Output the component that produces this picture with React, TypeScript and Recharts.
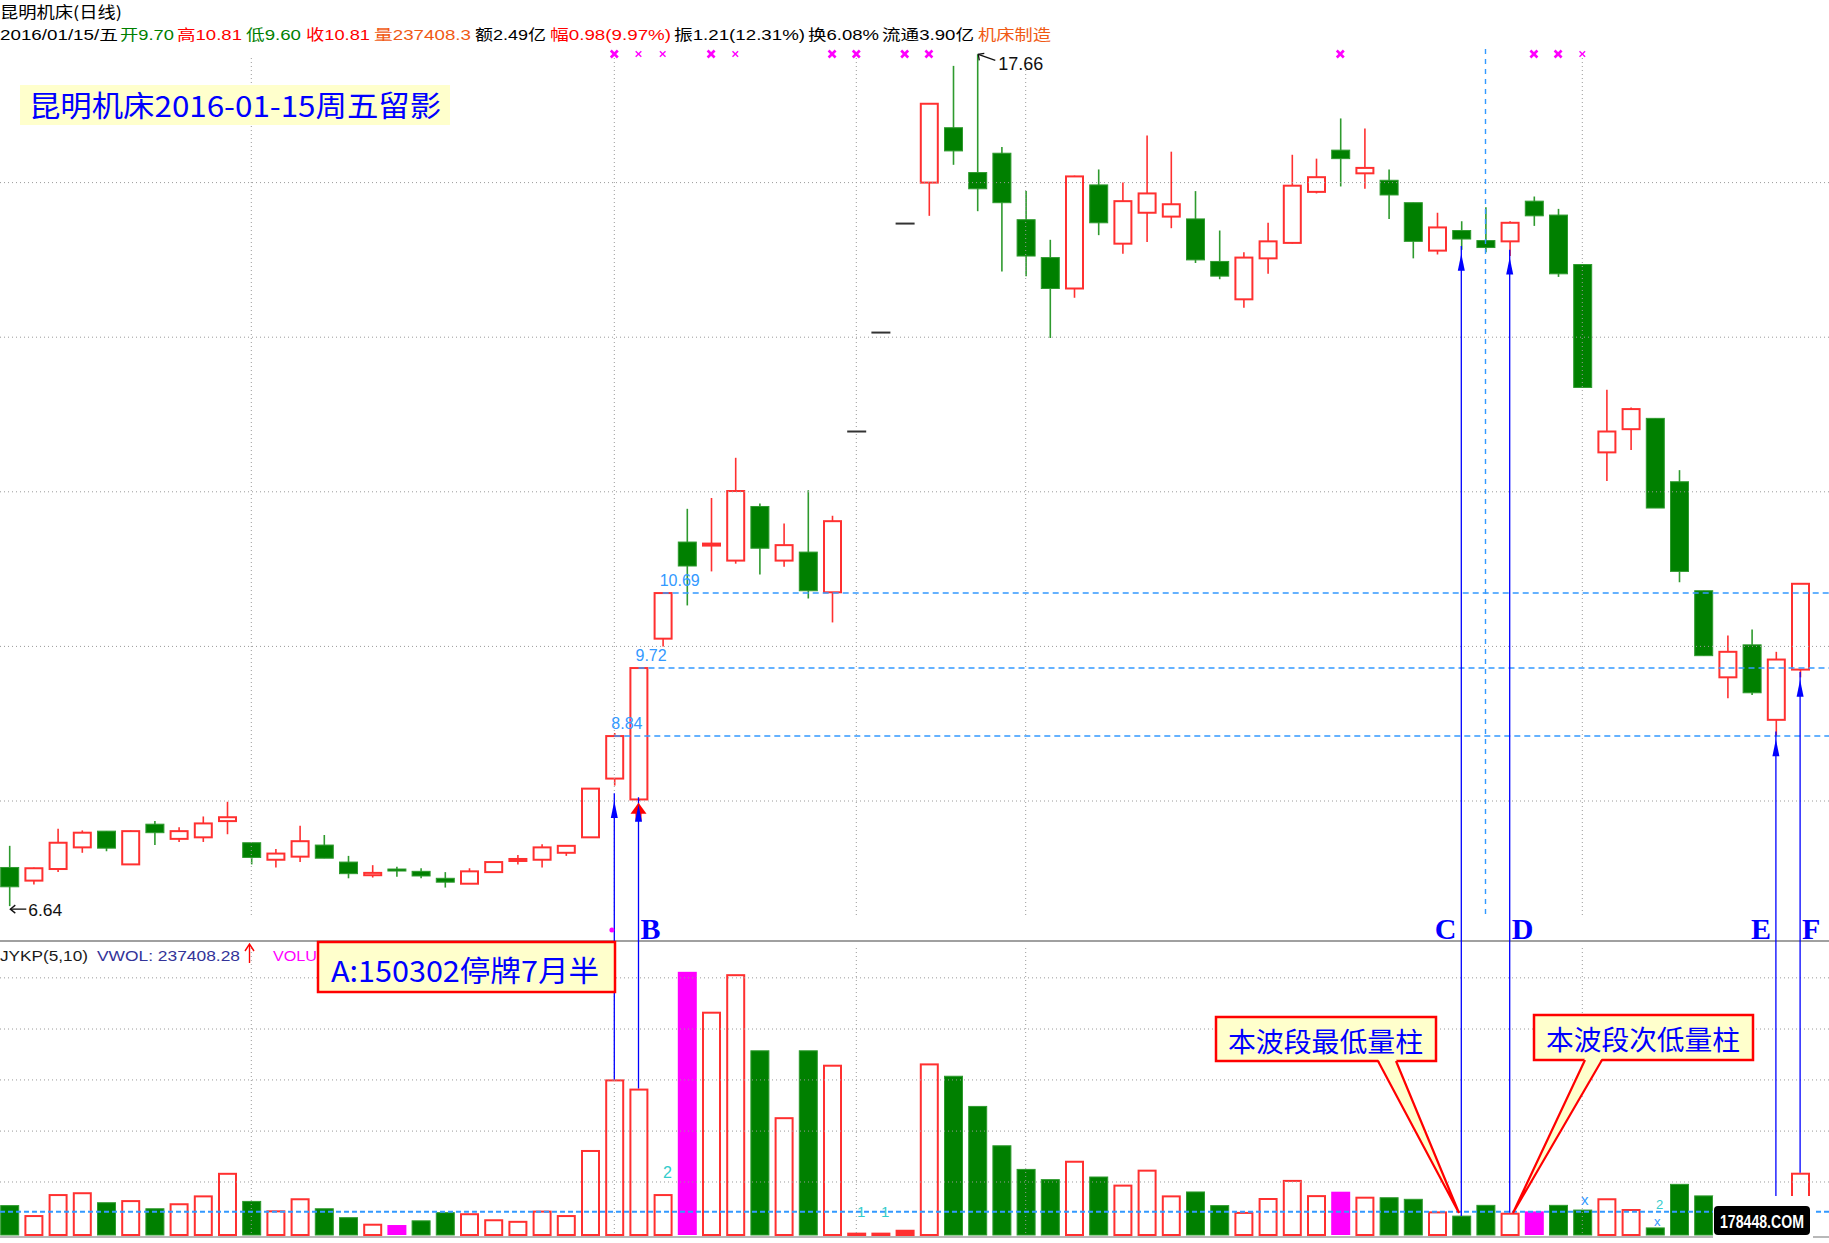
import React from "react";
import { ComposedChart, Bar, XAxis, YAxis, ReferenceLine, ReferenceDot } from "recharts";

// ---- values (75 daily candles, 2015 -> 2016/01/15) ----
const days = [
  1, 2, 3, 4, 5, 6, 7, 8, 9, 10, 11, 12, 13, 14, 15, 16, 17, 18, 19, 20, 21, 22, 23, 24, 25,
  26, 27, 28, 29, 30, 31, 32, 33, 34, 35, 36, 37, 38, 39, 40, 41, 42, 43, 44, 45, 46, 47, 48, 49, 50,
  51, 52, 53, 54, 55, 56, 57, 58, 59, 60, 61, 62, 63, 64, 65, 66, 67, 68, 69, 70, 71, 72, 73, 74, 75,
];
const opens = [
  7.14, 6.97, 7.12, 7.4, 7.61, 7.18, 7.7, 7.51, 7.53, 7.74, 7.46, 7.24, 7.28, 7.43, 7.21, 7.04, 7.12, 7.09, 7.0, 6.93,
  7.08, 7.23, 7.24, 7.33, 7.53, 8.29, 8.02, 10.1, 11.35, 11.31, 11.11, 11.81, 11.11, 11.22, 10.7, 12.78, 14.06, 15.47, 16.0, 16.71,
  16.13, 16.38, 15.52, 15.03, 14.63, 15.97, 15.21, 15.61, 15.56, 15.53, 14.98, 14.49, 15.02, 15.22, 15.88, 16.42, 16.12, 16.03, 15.74, 15.12,
  15.38, 15.25, 15.24, 15.76, 15.58, 14.94, 12.51, 12.81, 12.95, 12.13, 10.72, 9.6, 10.02, 9.05, 9.7,
];
const highs = [
  7.42, 7.14, 7.64, 7.62, 7.61, 7.62, 7.74, 7.66, 7.8, 7.99, 7.46, 7.38, 7.68, 7.56, 7.29, 7.17, 7.15, 7.13, 7.08, 7.13,
  7.21, 7.3, 7.44, 7.43, 8.16, 8.88, 9.72, 10.69, 11.78, 11.92, 12.44, 11.85, 11.59, 12.02, 11.69, 12.78, 14.06, 15.47, 17.02, 17.51,
  17.66, 16.46, 15.89, 15.26, 16.09, 16.17, 16.0, 16.61, 16.4, 15.89, 15.38, 15.1, 15.48, 16.36, 16.31, 16.83, 16.7, 16.17, 15.74, 15.61,
  15.5, 15.68, 15.5, 15.82, 15.66, 14.94, 13.32, 13.09, 12.95, 12.28, 10.72, 10.14, 10.22, 9.93, 10.81,
];
const lows = [
  6.64, 6.92, 7.08, 7.33, 7.35, 7.18, 7.43, 7.47, 7.47, 7.57, 7.18, 7.14, 7.21, 7.26, 7.0, 7.01, 7.02, 7.0, 6.88, 6.93,
  7.08, 7.18, 7.14, 7.29, 7.53, 8.2, 8.0, 10.0, 10.53, 10.97, 11.07, 10.93, 11.03, 10.62, 10.31, 12.78, 14.06, 15.47, 15.57, 16.23,
  15.63, 14.85, 14.79, 13.99, 14.51, 15.32, 15.08, 15.23, 15.41, 14.96, 14.75, 14.38, 14.82, 15.21, 15.86, 15.95, 15.92, 15.53, 15.02, 15.07,
  15.13, 15.1, 15.05, 15.44, 14.78, 13.35, 12.14, 12.54, 11.79, 10.83, 9.88, 9.33, 9.37, 8.84, 9.6,
];
const closes = [
  6.89, 7.13, 7.46, 7.59, 7.39, 7.61, 7.59, 7.61, 7.71, 7.79, 7.27, 7.32, 7.48, 7.26, 7.06, 7.07, 7.11, 7.03, 6.95, 7.09,
  7.21, 7.25, 7.4, 7.42, 8.16, 8.84, 9.72, 10.69, 11.04, 11.33, 12.01, 11.27, 11.31, 10.72, 11.62, 12.78, 14.06, 15.47, 17.02, 16.41,
  15.92, 15.74, 15.05, 14.63, 16.08, 15.48, 15.76, 15.86, 15.72, 15.0, 14.79, 15.03, 15.24, 15.96, 16.07, 16.31, 16.19, 15.84, 15.24, 15.42,
  15.27, 15.16, 15.48, 15.57, 14.82, 13.35, 12.78, 13.07, 11.79, 10.97, 9.88, 9.93, 9.4, 9.83, 10.81,
];
const volumes = [
  112000, 76000, 156000, 163000, 123000, 133000, 100000, 121000, 151000, 237000, 128000, 94000, 140000, 100000, 66000,
  43000, 38000, 54000, 85000, 83000, 60000, 54000, 93000, 76000, 324000, 593000, 558000, 156000, 1003000, 851000,
  994000, 702000, 449000, 702000, 649000, 9000, 9000, 20000, 654000, 605000, 490000, 340000, 250000, 211000, 283000,
  221000, 192000, 249000, 151000, 164000, 112000, 88000, 141000, 210000, 152000, 165000, 146000, 142000, 136000, 90000,
  72000, 113000, 85000, 90000, 113000, 95000, 140000, 99000, 27000, 193000, 149000, 120000, 110000, 130000, 237408,
];
const hotVolumeDays = [17, 29, 56, 64];
const boldMarkDays = [26, 30, 35, 36, 38, 39, 56, 64, 65];
const thinMarkDays = [27, 28, 31, 66];
const priceGrid = [8, 10, 12, 14, 16];
const volumeGrid = [202000, 396000, 591000, 785000, 980000];
const volumeFloor = 88800;
const monthDays = [11, 26, 36, 43, 66];
const limitDays = [26, 27, 28];
const limitPrices = [8.84, 9.72, 10.69];
const arrowDays = [26, 27, 61, 63, 74, 75];
const arrowTips = [8.0, 7.95, 15.08, 15.03, 8.8, 9.57];
const arrowLetters = ["", "B", "C", "D", "E", "F"];
const letterSide = [0, 1, -1, 1, -1, 1];
const lowestDay = 1;
const highestDay = 41;
const cursorDay = 62;

// ---- layout ----
const W = 1829;
const H = 1243;
const STEP = 24.2;
const FIRST = 9.3;
const X0 = 1 - FIRST / STEP;
const X1 = X0 + W / STEP;
const PX_PER_YUAN = 77.3;
const P_HI = 8 + 801 / PX_PER_YUAN;
const P_LO = P_HI - H / PX_PER_YUAN;
const VOL_PER_PX = 3811;
const VOL_BASE_Y = 1235;
const V_HI = VOL_BASE_Y * VOL_PER_PX;
const V_LO = V_HI - H * VOL_PER_PX;
const priceAtY = (y: number) => P_HI - y / PX_PER_YUAN;
const volAtY = (y: number) => (VOL_BASE_Y - y) * VOL_PER_PX;
const volToPrice = (v: number) => P_HI - ((V_HI - v) / (V_HI - V_LO)) * (P_HI - P_LO);

const RED = "#FF3030";
const GREEN = "#008000";
const GREEN_EDGE = "#2E9A2E";
const MAGENTA = "#FF00FF";
const DASH_BLUE = "#3399FF";
const ARROW_BLUE = "#0000FF";
const GRID = "#9A9A9A";
const SANS = "'Liberation Sans', Arial, 'Noto Sans CJK SC', sans-serif";
const CJK = "'Noto Sans CJK SC', sans-serif";
const SERIF = "'Liberation Serif', 'Times New Roman', serif";

function Candle(props: any) {
  const { x, y, width, height, payload } = props;
  if (x == null || payload == null) return null;
  const { open, close, high, low } = payload;
  const mid = x + width / 2;
  if (high === low) {
    return <line x1={x} x2={x + width} y1={y} y2={y} stroke="#333" strokeWidth={2} />;
  }
  const k = height / (high - low);
  const yo = y + (high - open) * k;
  const yc = y + (high - close) * k;
  const up = close >= open;
  const top = Math.min(yo, yc);
  const bh = Math.max(Math.abs(yo - yc), 2);
  return (
    <g>
      <line x1={mid} x2={mid} y1={y} y2={y + height} stroke={up ? RED : GREEN_EDGE} strokeWidth={1.6} />
      {up ? (
        <rect x={x + 1} y={top} width={width - 2} height={bh} fill="#fff" stroke={RED} strokeWidth={2} />
      ) : (
        <rect x={x + 0.5} y={top} width={width - 1} height={bh} fill={GREEN} stroke={GREEN_EDGE} strokeWidth={1} />
      )}
    </g>
  );
}

function VolBar(props: any) {
  const { x, y, width, height, payload } = props;
  if (x == null || payload == null) return null;
  if (payload.hot) return <rect x={x} y={y} width={width} height={height} fill={MAGENTA} />;
  if (payload.close >= payload.open) {
    return (
      <rect x={x + 1} y={y + 1} width={width - 2} height={Math.max(height - 1, 1)}
        fill={height < 6 ? RED : "#fff"} stroke={RED} strokeWidth={2} />
    );
  }
  return <rect x={x + 0.5} y={y} width={width - 1} height={height} fill={GREEN} stroke={GREEN_EDGE} strokeWidth={1} />;
}

const markShape = (bold: boolean) => (p: any) => {
  const s = bold ? 3.5 : 2.8;
  return (
    <g stroke={MAGENTA} strokeWidth={bold ? 2.6 : 1.4}>
      <line x1={p.cx - s} y1={p.cy - s} x2={p.cx + s} y2={p.cy + s} />
      <line x1={p.cx - s} y1={p.cy + s} x2={p.cx + s} y2={p.cy - s} />
    </g>
  );
};

const arrowHead = (red: boolean) => (p: any) => (
  <g>
    {red && (
      <g fill="#FF0000">
        <polygon points={`${p.cx},${p.cy - 2} ${p.cx - 8},${p.cy + 9} ${p.cx + 8},${p.cy + 9}`} />
        <rect x={p.cx - 3} y={p.cy + 8} width={6} height={8} />
      </g>
    )}
    <polygon points={`${p.cx},${p.cy} ${p.cx - 3.5},${p.cy + 17} ${p.cx + 3.5},${p.cy + 17}`} fill={ARROW_BLUE} />
  </g>
);

const letterShape = (letter: string, side: number) => (p: any) => (
  <text x={side > 0 ? p.cx + 2 : p.cx - 5} y={p.cy} textAnchor={side > 0 ? "start" : "end"}
    fontFamily={SERIF} fontWeight="bold" fontSize={30} fill={ARROW_BLUE}>
    {letter}
  </text>
);

const limitLabel = (txt: string) => (p: any) => (
  <text x={p.cx - 3} y={p.cy - 7} fontFamily={SANS} fontSize={16} fill={DASH_BLUE}>{txt}</text>
);

const lowLabel = (p: any) => (
  <g>
    <line x1={p.cx + 1} y1={p.cy + 3} x2={p.cx + 17} y2={p.cy + 3} stroke="#111" strokeWidth={1.3} />
    <polyline points={`${p.cx + 6},${p.cy - 1} ${p.cx + 1},${p.cy + 3} ${p.cx + 6},${p.cy + 7}`} fill="none" stroke="#111" strokeWidth={1.3} />
    <text x={p.cx + 19} y={p.cy + 10} fontFamily={SANS} fontSize={16} fill="#111" textLength={34} lengthAdjust="spacingAndGlyphs">6.64</text>
  </g>
);

const highLabel = (p: any) => (
  <g>
    <line x1={p.cx + 1} y1={p.cy} x2={p.cx + 18} y2={p.cy + 6} stroke="#111" strokeWidth={1.3} />
    <polyline points={`${p.cx + 2},${p.cy + 6} ${p.cx + 1},${p.cy} ${p.cx + 7},${p.cy - 1}`} fill="none" stroke="#111" strokeWidth={1.3} />
    <text x={p.cx + 21} y={p.cy + 16} fontFamily={SANS} fontSize={18} fill="#111" textLength={45} lengthAdjust="spacingAndGlyphs">17.66</text>
  </g>
);

const headSegs: [string, number, number, string][] = [
  ["2016/01/15/五", 0, 118, "#000"],
  ["开9.70", 120, 54, "#008000"],
  ["高10.81", 177, 65, "#FF0000"],
  ["低9.60", 246, 55, "#008000"],
  ["收10.81", 306, 64, "#FF0000"],
  ["量237408.3", 374, 97, "#F05A14"],
  ["额2.49亿", 475, 71, "#000"],
  ["幅0.98(9.97%)", 550, 121, "#FF0000"],
  ["振1.21(12.31%)", 674, 131, "#000"],
  ["换6.08%", 808, 71, "#000"],
  ["流通3.90亿", 882, 92, "#000"],
  ["机床制造", 978, 73, "#F05A14"],
];

function Callout(props: { x: number; y: number; w: number; h: number; text: string; tw: number; base: number[]; tip: number[] }) {
  const { x, y, w, h, text, tw, base, tip } = props;
  const by = y + h;
  return (
    <g>
      <rect x={x} y={y} width={w} height={h} fill="#FFFFCC" stroke="#FF0000" strokeWidth={2.5} />
      <polygon points={`${base[0]},${by - 2} ${tip[0]},${tip[1]} ${base[1]},${by - 2}`} fill="#FFFFCC" />
      <polyline points={`${base[0]},${by} ${tip[0]},${tip[1]} ${base[1]},${by}`} fill="none" stroke="#FF0000" strokeWidth={2.2} />
      <text x={x + 12} y={y + 35} fontFamily={CJK} fontSize={27} fill={ARROW_BLUE} textLength={tw} lengthAdjust="spacingAndGlyphs">{text}</text>
    </g>
  );
}

function Overlay() {
  return (
    <svg width={W} height={H} style={{ position: "absolute", left: 0, top: 0, pointerEvents: "none" }}>
      <text x={0} y={18} fontFamily={CJK} fontSize={16} fill="#000" textLength={122} lengthAdjust="spacingAndGlyphs">昆明机床(日线)</text>
      {headSegs.map(([t, x, w, c]) => (
        <text key={t} x={x} y={40} fontFamily={SANS} fontSize={15} fill={c} textLength={w} lengthAdjust="spacingAndGlyphs">{t}</text>
      ))}
      <rect x={20} y={85} width={430} height={40} fill="#FFFFCC" />
      <text x={29} y={117} fontFamily={CJK} fontSize={29} fill={ARROW_BLUE} textLength={412} lengthAdjust="spacingAndGlyphs">昆明机床2016-01-15周五留影</text>

      <text x={0} y={961} fontFamily={SANS} fontSize={15} fill="#1a1a1a" textLength={88} lengthAdjust="spacingAndGlyphs">JYKP(5,10)</text>
      <text x={97} y={961} fontFamily={SANS} fontSize={15} fill="#333399" textLength={143} lengthAdjust="spacingAndGlyphs">VWOL: 237408.28</text>
      <line x1={249.5} y1={945} x2={249.5} y2={963} stroke="#FF0000" strokeWidth={1.4} />
      <polyline points="245,951 249.5,944 254,951" fill="none" stroke="#FF0000" strokeWidth={1.4} />
      <text x={273} y={961} fontFamily={SANS} fontSize={15} fill={MAGENTA} textLength={44} lengthAdjust="spacingAndGlyphs">VOLU</text>
      <rect x={318} y={942} width={297} height={50} fill="#FFFFCC" stroke="#FF0000" strokeWidth={2.5} />
      <text x={331} y={982} fontFamily={CJK} fontSize={29} fill={ARROW_BLUE} textLength={268} lengthAdjust="spacingAndGlyphs">A:150302停牌7月半</text>

      <text x={663} y={1178} fontFamily={SANS} fontSize={16} fill="#33CCCC">2</text>
      <text x={857} y={1217} fontFamily={SANS} fontSize={15} fill="#33CCCC">1</text>
      <text x={881} y={1217} fontFamily={SANS} fontSize={15} fill="#33CCCC">1</text>
      <text x={1581} y={1205} fontFamily={SANS} fontSize={15} fill={DASH_BLUE}>x</text>
      <text x={1656} y={1209} fontFamily={SANS} fontSize={13} fill="#33CCCC">2</text>
      <text x={1654} y={1226} fontFamily={SANS} fontSize={13} fill={DASH_BLUE}>x</text>

      <Callout x={1216} y={1017} w={220} h={44} text="本波段最低量柱" tw={195} base={[1378, 1396]} tip={[1459, 1213]} />
      <Callout x={1534} y={1015} w={219} h={45} text="本波段次低量柱" tw={194} base={[1585, 1602]} tip={[1513, 1213]} />

      <rect x={1713} y={1196} width={100} height={47} fill="#fff" />
      <rect x={1714} y={1206} width={96} height={29} rx={4} fill="#000" />
      <text x={1762} y={1228} textAnchor="middle" fontFamily={SANS} fontWeight="bold" fontSize={19} fill="#fff"
        textLength={84} lengthAdjust="spacingAndGlyphs">178448.COM</text>
    </svg>
  );
}

export default function App() {
  const data = days.map((d, k) => ({
    day: d,
    range: [lows[k], highs[k]],
    open: opens[k],
    high: highs[k],
    low: lows[k],
    close: closes[k],
    vol: volumes[k],
    hot: hotVolumeDays.includes(d),
  }));
  const P = { xAxisId: "x", yAxisId: "p", ifOverflow: "visible" as const };
  const V = { xAxisId: "xv", yAxisId: "v", ifOverflow: "visible" as const };
  return (
    <div style={{ position: "absolute", left: 0, top: 0, width: W, height: H, background: "#fff", overflow: "hidden" }}>
      <ComposedChart width={W} height={H} data={data} margin={{ top: 0, right: 0, bottom: 0, left: 0 }}>
        <XAxis xAxisId="x" dataKey="day" type="number" domain={[X0, X1]} allowDataOverflow hide />
        <XAxis xAxisId="xv" dataKey="day" type="number" domain={[X0, X1]} allowDataOverflow hide />
        <YAxis yAxisId="p" type="number" domain={[P_LO, P_HI]} allowDataOverflow hide />
        <YAxis yAxisId="v" type="number" domain={[V_LO, V_HI]} allowDataOverflow hide />

        {priceGrid.map((p) => (
          <ReferenceLine key={"pg" + p} {...P} y={p} stroke={GRID} strokeDasharray="1 3" strokeWidth={1} />
        ))}
        {volumeGrid.map((v) => (
          <ReferenceLine key={"vg" + v} {...V} y={v} stroke={GRID} strokeDasharray="1 3" strokeWidth={1} />
        ))}
        {monthDays.map((d) => (
          <ReferenceLine key={"mp" + d} {...P} segment={[{ x: d, y: priceAtY(58) }, { x: d, y: priceAtY(918) }]}
            stroke={GRID} strokeDasharray="1 3" strokeWidth={1} />
        ))}
        {monthDays.map((d) => (
          <ReferenceLine key={"mv" + d} {...V} segment={[{ x: d, y: volAtY(948) }, { x: d, y: 0 }]}
            stroke={GRID} strokeDasharray="1 3" strokeWidth={1} />
        ))}
        <ReferenceLine {...V} y={volAtY(941)} stroke="#A0A0A0" strokeWidth={2} />
        <ReferenceLine {...V} y={volAtY(1237)} stroke="#A0A0A0" strokeWidth={1.5} />
        <ReferenceLine {...V} y={volumeFloor} stroke={DASH_BLUE} strokeDasharray="5 3" strokeWidth={2} />
        {limitDays.map((d, k) => (
          <ReferenceLine key={"lim" + d} {...P} segment={[{ x: d, y: limitPrices[k] }, { x: X1, y: limitPrices[k] }]}
            stroke={DASH_BLUE} strokeDasharray="6 4" strokeWidth={1.6} />
        ))}
        <ReferenceLine {...P} segment={[{ x: cursorDay, y: priceAtY(49) }, { x: cursorDay, y: priceAtY(919) }]}
          stroke={DASH_BLUE} strokeDasharray="5 5" strokeWidth={1.4} />

        <Bar xAxisId="xv" yAxisId="v" dataKey="vol" barSize={19} shape={VolBar} isAnimationActive={false} />
        <Bar xAxisId="x" yAxisId="p" dataKey="range" barSize={19} shape={Candle} isAnimationActive={false} />

        {arrowDays.map((d, k) => (
          <ReferenceLine key={"ar" + d} {...P}
            segment={[{ x: d, y: arrowTips[k] + 0.1 }, { x: d, y: volToPrice(volumes[d - 1]) }]}
            stroke={ARROW_BLUE} strokeWidth={1.3} />
        ))}
        {arrowDays.map((d, k) => (
          <ReferenceDot key={"ah" + d} {...P} x={d} y={arrowTips[k]} r={0} shape={arrowHead(d === 27)} />
        ))}
        {arrowDays.map((d, k) =>
          arrowLetters[k] ? (
            <ReferenceDot key={"al" + d} {...P} x={d} y={priceAtY(939)} r={0} shape={letterShape(arrowLetters[k], letterSide[k])} />
          ) : null
        )}
        {limitDays.map((d, k) => (
          <ReferenceDot key={"ll" + d} {...P} x={d} y={limitPrices[k]} r={0} shape={limitLabel(limitPrices[k].toFixed(2))} />
        ))}
        {boldMarkDays.map((d) => (
          <ReferenceDot key={"bm" + d} {...P} x={d} y={priceAtY(54)} r={0} shape={markShape(true)} />
        ))}
        {thinMarkDays.map((d) => (
          <ReferenceDot key={"tm" + d} {...P} x={d} y={priceAtY(54)} r={0} shape={markShape(false)} />
        ))}
        <ReferenceDot {...P} x={25.9} y={priceAtY(930)} r={2.5} fill={MAGENTA} stroke="none" />
        <ReferenceDot {...P} x={lowestDay} y={lows[lowestDay - 1]} r={0} shape={lowLabel} />
        <ReferenceDot {...P} x={highestDay} y={highs[highestDay - 1]} r={0} shape={highLabel} />
      </ComposedChart>
      <Overlay />
    </div>
  );
}
